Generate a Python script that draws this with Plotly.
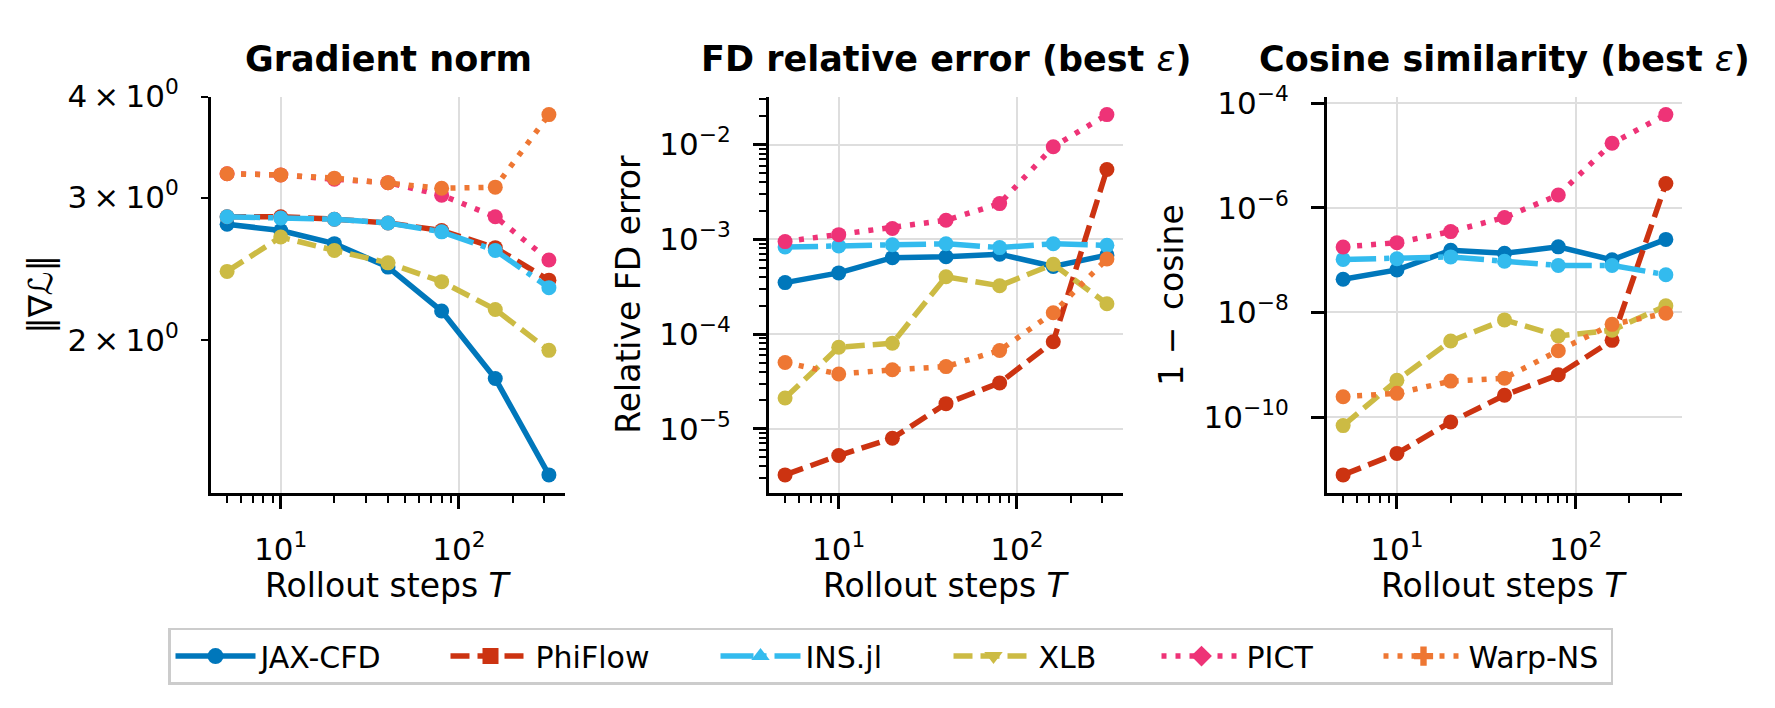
import numpy as np
import plotly.graph_objects as go

W, H = 1775, 708

steps = [5, 10, 20, 40, 80, 160, 320]
solvers = ["JAX-CFD", "PhiFlow", "INS.jl", "XLB", "PICT", "Warp-NS"]

# gradient norm ||grad L|| per solver (same order as solvers)
grad_norm = [
    [2.78, 2.73, 2.63, 2.46, 2.17, 1.79, 1.36],
    [2.84, 2.84, 2.82, 2.79, 2.73, 2.60, 2.37],
    [2.84, 2.83, 2.82, 2.79, 2.72, 2.58, 2.32],
    [2.43, 2.68, 2.58, 2.49, 2.36, 2.18, 1.94],
    [3.21, 3.20, 3.16, 3.13, 3.02, 2.84, 2.51],
    [3.21, 3.20, 3.17, 3.13, 3.08, 3.09, 3.80],
]

# relative FD error (best eps)
fd_error = [
    [3.49e-4, 4.42e-4, 6.40e-4, 6.55e-4, 6.97e-4, 5.17e-4, 6.80e-4],
    [3.26e-6, 5.22e-6, 7.93e-6, 1.84e-5, 3.05e-5, 8.30e-5, 5.46e-3],
    [8.28e-4, 8.49e-4, 8.75e-4, 8.97e-4, 8.17e-4, 8.97e-4, 8.63e-4],
    [2.11e-5, 7.26e-5, 7.98e-5, 4.02e-4, 3.23e-4, 5.45e-4, 2.09e-4],
    [9.46e-4, 1.12e-3, 1.30e-3, 1.59e-3, 2.38e-3, 9.47e-3, 2.07e-2],
    [5.01e-5, 3.78e-5, 4.19e-5, 4.53e-5, 6.71e-5, 1.68e-4, 6.20e-4],
]

# 1 - cosine similarity (best eps)
one_minus_cos = [
    [4.3e-8, 6.5e-8, 1.54e-7, 1.35e-7, 1.79e-7, 1.01e-7, 2.48e-7],
    [7.9e-12, 2.03e-11, 8.1e-11, 2.62e-10, 6.44e-10, 2.93e-9, 2.9e-6],
    [1.03e-7, 1.06e-7, 1.15e-7, 9.5e-8, 7.9e-8, 7.9e-8, 5.26e-8],
    [6.9e-11, 5.05e-10, 2.84e-9, 7.2e-9, 3.57e-9, 4.56e-9, 1.34e-8],
    [1.78e-7, 2.15e-7, 3.5e-7, 6.5e-7, 1.75e-6, 1.7e-5, 6.0e-5],
    [2.46e-10, 2.85e-10, 4.88e-10, 5.56e-10, 1.86e-9, 5.92e-9, 9.64e-9],
]

colors = ["#0077BB", "#CC3311", "#33BBEE", "#CCBB44", "#EE3377", "#EE7733"]
dashes = ["solid", "19px,8px", "33px,8px,5px,8px", "19px,8px", "5px,9px", "5px,9px"]
legend_symbols = ["circle", "square", "triangle-up", "triangle-down", "diamond", "cross"]
# horizontal room given to each legend label (px), mimics matplotlib column spacing
legend_widths = [180, 175, 138, 113, 127, 137]

FONT = "DejaVu Sans"
TICK_SIZE = 31
LABEL_SIZE = 33
TITLE_SIZE = 35
LEGEND_SIZE = 30
LW = 5.5
MS = 15

# panel boxes in pixels (left, right), shared top/bottom
panels_px = [(211, 565), (769, 1123), (1327, 1682)]
top_px, bottom_px = 77, 486


def fx(px):
    return px / W


def fy(py):
    return 1 - py / H


def log_range(values):
    v = np.asarray(values, dtype=float)
    lo, hi = np.log10(v.min()), np.log10(v.max())
    pad = 0.05 * (hi - lo)
    return [lo - pad, hi + pad]


def minor_vals(rng):
    out = []
    for d in range(int(np.floor(rng[0])) - 1, int(np.ceil(rng[1])) + 1):
        for k in range(2, 10):
            v = k * 10.0 ** d
            if rng[0] <= np.log10(v) <= rng[1]:
                out.append(v)
    return out


def pow10(e):
    return "10<sup>%s</sup>" % str(e).replace("-", "\u2212")


fig = go.Figure()

panel_data = [grad_norm, fd_error, one_minus_cos]
for p, data in enumerate(panel_data):
    xa = "x" if p == 0 else "x%d" % (p + 1)
    ya = "y" if p == 0 else "y%d" % (p + 1)
    for i, name in enumerate(solvers):
        fig.add_trace(go.Scatter(
            x=steps, y=data[i], xaxis=xa, yaxis=ya, mode="lines+markers",
            name=name, showlegend=False, hoverinfo="x+y+name",
            line=dict(color=colors[i], width=LW, dash=dashes[i]),
            marker=dict(color=colors[i], size=MS, symbol="circle"),
        ))

# legend handles (plots use circles, legend shows per-solver markers)
for i, name in enumerate(solvers):
    fig.add_trace(go.Scatter(
        x=[None], y=[None], mode="lines+markers", name=name,
        legendwidth=legend_widths[i],
        line=dict(color=colors[i], width=LW, dash=dashes[i]),
        marker=dict(color=colors[i], size=18, symbol=legend_symbols[i]),
    ))

x_rng = log_range(steps)
x_common = dict(
    type="log", range=x_rng, showline=True, linecolor="black", linewidth=3,
    ticks="outside", ticklen=13, tickwidth=2.5, tickcolor="black",
    tickvals=[10, 100], ticktext=[pow10(1), pow10(2)],
    tickfont=dict(family=FONT, size=TICK_SIZE, color="black"),
    showgrid=True, gridcolor="#dedede", gridwidth=1.5, zeroline=False,
    ticklabelstandoff=14,
    minor=dict(tickmode="array", tickvals=minor_vals(x_rng), ticks="outside",
               ticklen=7, tickwidth=2, tickcolor="black", showgrid=False),
)

layout = dict(
    width=W, height=H, margin=dict(l=0, r=0, t=0, b=0),
    paper_bgcolor="white", plot_bgcolor="white",
    font=dict(family=FONT, color="black"),
    showlegend=True,
    legend=dict(
        orientation="h", x=fx(168), xanchor="left", y=fy(625), yanchor="top",
        font=dict(family=FONT, size=LEGEND_SIZE, color="black"),
        bordercolor="#cccccc", borderwidth=2.5, bgcolor="white",
        itemwidth=80, tracegroupgap=0, valign="middle",
    ),
)

for p, (l, r) in enumerate(panels_px):
    key = "" if p == 0 else str(p + 1)
    layout["xaxis" + key] = dict(x_common, domain=[fx(l), fx(r)],
                                 anchor="y" + key)

# panel 1: gradient norm (labelled minor ticks only, no horizontal grid)
y1_rng = log_range(grad_norm)
layout["yaxis"] = dict(
    type="log", range=y1_rng, domain=[fy(bottom_px), fy(top_px)], anchor="x",
    showline=True, linecolor="black", linewidth=3,
    ticks="outside", ticklen=7, tickwidth=2, tickcolor="black",
    tickvals=[2, 3, 4],
    ticktext=["%d\u2009\u00d7\u2009%s" % (v, pow10(0)) for v in [2, 3, 4]],
    tickfont=dict(family=FONT, size=TICK_SIZE, color="black"),
    showgrid=False, zeroline=False, ticklabelstandoff=16,
)

# panel 2: FD error
y2_rng = log_range(fd_error)
exps2 = [-5, -4, -3, -2]
layout["yaxis2"] = dict(
    type="log", range=y2_rng, domain=[fy(bottom_px), fy(top_px)], anchor="x2",
    showline=True, linecolor="black", linewidth=3,
    ticks="outside", ticklen=13, tickwidth=2.5, tickcolor="black",
    tickvals=[10.0 ** e for e in exps2], ticktext=[pow10(e) for e in exps2],
    tickfont=dict(family=FONT, size=TICK_SIZE, color="black"),
    showgrid=True, gridcolor="#dedede", gridwidth=1.5, zeroline=False,
    ticklabelstandoff=16,
    minor=dict(tickmode="array", tickvals=minor_vals(y2_rng), ticks="outside",
               ticklen=7, tickwidth=2, tickcolor="black", showgrid=False),
)

# panel 3: 1 - cosine
y3_rng = log_range(one_minus_cos)
exps3 = [-10, -8, -6, -4]
layout["yaxis3"] = dict(
    type="log", range=y3_rng, domain=[fy(bottom_px), fy(top_px)], anchor="x3",
    showline=True, linecolor="black", linewidth=3,
    ticks="outside", ticklen=13, tickwidth=2.5, tickcolor="black",
    tickvals=[10.0 ** e for e in exps3], ticktext=[pow10(e) for e in exps3],
    tickfont=dict(family=FONT, size=TICK_SIZE, color="black"),
    showgrid=True, gridcolor="#dedede", gridwidth=1.5, zeroline=False,
    ticklabelstandoff=16,
)

fig.update_layout(**layout)

titles = ["<b>Gradient norm</b>",
          "<b>FD relative error (best </b><i>\u03b5</i><b>)</b>",
          "<b>Cosine similarity (best </b><i>\u03b5</i><b>)</b>"]
ylabels = ["\u2016\u2207\u2112\u2016", "Relative FD error", "1 \u2212\u2002cosine"]
ylabel_x = [41, 629, 1172]

for p, (l, r) in enumerate(panels_px):
    cx = (l + r) / 2
    fig.add_annotation(text=titles[p], x=fx(cx), y=fy(38), xref="paper", yref="paper",
                       showarrow=False, xanchor="center", yanchor="middle",
                       font=dict(family=FONT, size=TITLE_SIZE, color="black"))
    fig.add_annotation(text="Rollout steps <i>T</i>", x=fx(cx), y=fy(582),
                       xref="paper", yref="paper", showarrow=False,
                       xanchor="center", yanchor="middle",
                       font=dict(family=FONT, size=LABEL_SIZE, color="black"))
    fig.add_annotation(text=ylabels[p], x=fx(ylabel_x[p]), y=fy((top_px + bottom_px) / 2),
                       xref="paper", yref="paper", showarrow=False, textangle=-90,
                       xanchor="center", yanchor="middle",
                       font=dict(family=FONT, size=LABEL_SIZE, color="black"))

# drop the default page margin so the figure sits at the window origin
fig.write_html("out.html", config={"displayModeBar": False},
               post_script="document.body.style.margin='0px';")
